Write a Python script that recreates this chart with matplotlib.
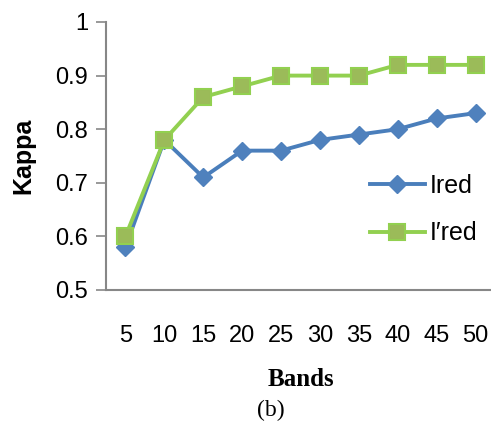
import matplotlib
matplotlib.use("Agg")
import matplotlib.pyplot as plt

bands = ["5", "10", "15", "20", "25", "30", "35", "40", "45", "50"]
ired = [0.58, 0.78, 0.71, 0.76, 0.76, 0.78, 0.79, 0.80, 0.82, 0.83]
ired_prime = [0.60, 0.78, 0.86, 0.88, 0.90, 0.90, 0.90, 0.92, 0.92, 0.92]
yticks = [0.5, 0.6, 0.7, 0.8, 0.9, 1.0]
ytick_labels = ["0.5", "0.6", "0.7", "0.8", "0.9", "1"]

fig = plt.figure(figsize=(4.91, 4.25), dpi=100)
ax = fig.add_axes([106 / 491, 1 - 290 / 425, 389 / 491, 268 / 425])

x = list(range(len(bands)))
ax.plot(x, ired, color="#4a7ebb", lw=2.8, marker="D", ms=9,
        mfc="#4f81bd", mec="#4f81bd", label="Ired", zorder=3)
ax.plot(x, ired_prime, color="#92d050", lw=2.8, marker="s", ms=11,
        mfc="#9bbb59", mec="#92d050", mew=1.5, label="I\u2032red", zorder=4)

ax.set_xlim(-0.5, len(bands) - 0.5)
ax.set_ylim(0.5, 1.0)
ax.set_xticks(x)
ax.set_xticklabels(bands)
ax.set_yticks(yticks)
ax.set_yticklabels(ytick_labels)

for s in ("top", "right"):
    ax.spines[s].set_visible(False)
for s in ("left", "bottom"):
    ax.spines[s].set_color("#878787")
    ax.spines[s].set_linewidth(1.5)

ax.tick_params(axis="x", length=0, pad=25, labelsize=17)
ax.tick_params(axis="y", length=7, width=1.2, color="#878787", labelsize=17, pad=6)
for lab in ax.get_xticklabels() + ax.get_yticklabels():
    lab.set_fontfamily("Liberation Sans")

ax.set_ylabel("Kappa", fontsize=18, fontweight="bold", family="Liberation Sans", labelpad=14)

leg = ax.legend(loc="center left", bbox_to_anchor=(0.62, 0.30), frameon=False,
                prop={"family": "Liberation Sans", "size": 18},
                handlelength=2.2, handletextpad=0.2, labelspacing=0.95)

fig.text(301 / 491, 1 - 380 / 425, "Bands", ha="center", va="center",
         fontsize=18, fontweight="bold", family="Liberation Serif")
fig.text(271 / 491, 1 - 410 / 425, "(b)", ha="center", va="center",
         fontsize=17, family="Liberation Serif")

fig.savefig("out.png", dpi=100)
